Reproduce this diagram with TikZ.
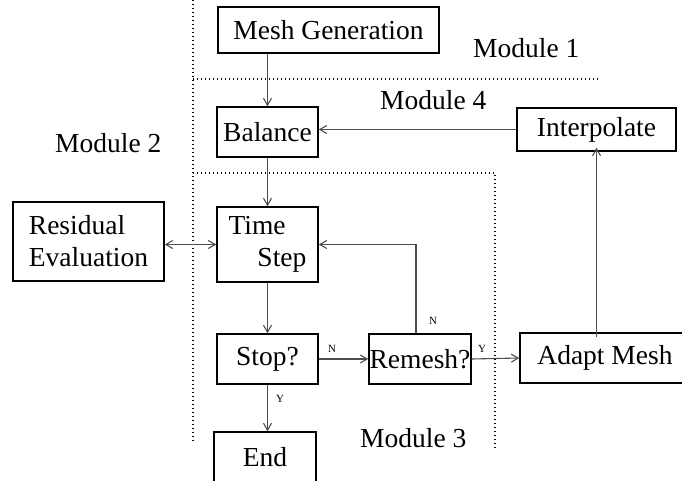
\documentclass[tikz,border=0pt]{standalone}
\usepackage{fontspec}
\setmainfont{Liberation Serif}
\usetikzlibrary{arrows.meta}
\tikzset{
  blk/.style={draw, line width=1.4bp, inner sep=0pt, font=\fontsize{27.6}{32}\selectfont},
  modlabel/.style={inner sep=0pt, anchor=base west, font=\fontsize{27.6}{32}\selectfont},
  yn/.style={inner sep=0pt, anchor=base, font=\fontsize{11}{13}\selectfont},
  flow/.style={draw=black!70, line width=1.1bp, -{Straight Barb[length=7bp,width=8bp]}},
  region/.style={line width=1.3bp, dash pattern=on 1.3bp off 2.7bp}
}
\begin{document}
\begin{tikzpicture}[x=1bp, y=-1bp]
\clip (0,0) rectangle (682,481);
\useasboundingbox (0,0) rectangle (682,481);

% module borders
\draw [region] (193,0) -- (193,442);
\draw [region] (193,79) -- (600,79);
\draw [region] (193,173) -- (495,173) -- (495,450);

\node [modlabel] (mod1) at (473,58) {Module 1};
\node [modlabel] (mod4) at (380,110) {Module 4};
\node [modlabel] (mod2) at (55,153) {Module 2};
\node [modlabel] (mod3) at (360,447) {Module 3};

% boxes
\node [blk, minimum width=221bp, minimum height=46bp] (mesh) at (328.5,30) {Mesh Generation};
\node [blk, minimum width=101bp, minimum height=50bp] (balance) at (267.5,132) {Balance};
\node [blk, minimum width=159bp, minimum height=43bp] (interp) at (596.5,129.5) {Interpolate};
\node [blk, minimum width=151bp, minimum height=79bp, align=left] (resid) at (88.5,241.5) {Residual\\Evaluation};
\node [blk, minimum width=101bp, minimum height=75bp, align=left] (tstep) at (267.5,244.5) {Time\\\hspace*{1.05em}Step};
\node [blk, minimum width=101bp, minimum height=50bp] (stop) at (267.5,359) {Stop?};
\node [blk, minimum width=102bp, minimum height=50bp] (remesh) at (420,359) {Remesh?};
\node [blk, minimum width=170bp, minimum height=50bp] (adapt) at (605,358) {Adapt Mesh};
\node [blk, minimum width=102bp, minimum height=50bp] (end) at (265,457) {End};

% connectors
\draw [flow] (balance.north |- mesh.south) -- (balance.north);
\draw [flow] (interp.west) -- (balance.east |- interp.west);
\draw [flow] (balance.south) -- (tstep.north);
\draw [flow, {Straight Barb[length=7bp,width=8bp]}-{Straight Barb[length=7bp,width=8bp]}] (resid.east |- tstep.west) -- (tstep.west);
\draw [flow] (tstep.south) -- (stop.north);
\draw [flow] (stop.east) -- (remesh.west);
\draw [flow] ([xshift=-4bp]remesh.north) |- (tstep.east);
\draw [flow] (remesh.east) -- (adapt.west);
\draw [flow] ([yshift=-5bp]interp.south |- adapt.north) -- ([yshift=4bp]interp.south);
\draw [flow] (stop.south) -- (stop.south |- end.north);

% branch labels
\node [yn] (n1) at (332,352) {N};
\node [yn] (n2) at (433,324) {N};
\node [yn] (y1) at (482,352) {Y};
\node [yn] (y2) at (280,402) {Y};
\end{tikzpicture}
\end{document}
